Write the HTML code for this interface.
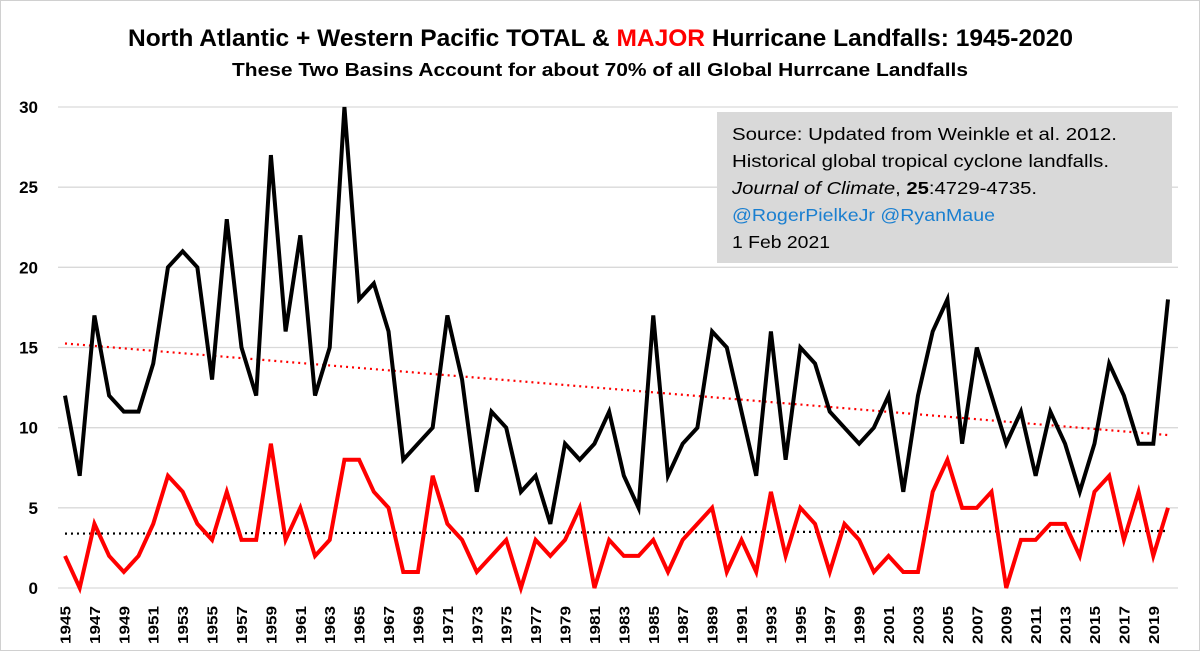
<!DOCTYPE html>
<html><head><meta charset="utf-8"><style>
html,body{margin:0;padding:0;background:#fff}
svg{display:block}
text{font-family:"Liberation Sans",sans-serif}
</style></head><body>
<svg id="chart" width="1200" height="651" viewBox="0 0 1200 651">
<rect x="0.5" y="0.5" width="1199" height="650" fill="#fff" stroke="#d0d0d0"/>
<text x="128" y="46" textLength="945" lengthAdjust="spacingAndGlyphs" font-size="24.5" font-weight="bold" fill="#000">North Atlantic + Western Pacific TOTAL &amp; <tspan fill="#ff0000">MAJOR</tspan> Hurricane Landfalls: 1945-2020</text>
<text x="232" y="76" textLength="736" lengthAdjust="spacingAndGlyphs" font-size="18.5" font-weight="bold" fill="#000">These Two Basins Account for about 70% of all Global Hurrcane Landfalls</text>
<g id="grid"></g>
<g id="ylabels"></g>
<g id="xlabels"></g>
<rect x="717" y="112" width="455" height="151" fill="#d9d9d9"/>
<g font-size="17.5" fill="#000">
<text x="732" y="140" textLength="385" lengthAdjust="spacingAndGlyphs">Source: Updated from Weinkle et al. 2012.</text>
<text x="732" y="167" textLength="377" lengthAdjust="spacingAndGlyphs">Historical global tropical cyclone landfalls.</text>
<text x="732" y="194" textLength="305" lengthAdjust="spacingAndGlyphs"><tspan font-style="italic">Journal of Climate</tspan>, <tspan font-weight="bold">25</tspan>:4729-4735.</text>
<text x="732" y="221" textLength="263" lengthAdjust="spacingAndGlyphs" fill="#1a7fd0">@RogerPielkeJr @RyanMaue</text>
<text x="732" y="248" textLength="98" lengthAdjust="spacingAndGlyphs">1 Feb 2021</text>
</g>
<g id="series"></g>
</svg>
<script>
const years = [];
for (let y = 1945; y <= 2020; y++) years.push(y);
const totalLandfalls = [12,7,17,12,11,11,14,20,21,20,13,23,15,12,27,16,22,12,15,30,18,19,16,8,9,10,17,13,6,11,10,6,7,4,9,8,9,11,7,5,17,7,9,10,16,15,11,7,16,8,15,14,11,10,9,10,12,6,12,16,18,9,15,12,9,11,7,11,9,6,9,14,12,9,9,18];
const majorLandfalls = [2,0,4,2,1,2,4,7,6,4,3,6,3,3,9,3,5,2,3,8,8,6,5,1,1,7,4,3,1,2,3,0,3,2,3,5,0,3,2,2,3,1,3,4,5,1,3,1,6,2,5,4,1,4,3,1,2,1,1,6,8,5,5,6,0,3,3,4,4,2,6,7,3,6,2,5];
const yTicks = [0,5,10,15,20,25,30];

const NS = "http://www.w3.org/2000/svg";
const X0 = 65, X1 = 1168, Y0 = 588, Y30 = 107;
const xs = i => X0 + (X1 - X0) * i / (years.length - 1);
const ys = v => Y0 - (Y0 - Y30) * v / 30;
function mk(tag, attrs, parent) {
  const e = document.createElementNS(NS, tag);
  for (const k in attrs) e.setAttribute(k, attrs[k]);
  parent.appendChild(e); return e;
}
const grid = document.getElementById('grid');
const yl = document.getElementById('ylabels');
yTicks.forEach(t => {
  const l = mk('line', {x1: 58, x2: 1178, y1: ys(t), y2: ys(t), stroke: '#d9d9d9', 'stroke-width': 1.3}, grid);
  
  
  const tx = mk('text', {x: 38, y: ys(t) + 6, 'text-anchor': 'end', 'font-size': 17, 'font-weight': 'bold'}, yl);
  tx.textContent = t;
  
  
});
const xl = document.getElementById('xlabels');
years.forEach((yr, i) => {
  if (yr % 2 === 0) return;
  const x = xs(i) + 5.5, y = 644;
  const tx = mk('text', {x: x, y: y, 'font-size': 15, 'font-weight': 'bold', textLength: 38, lengthAdjust: 'spacingAndGlyphs', transform: `rotate(-90 ${x} ${y})`}, xl);
  tx.textContent = yr;
  
  
});
function trend(arr) {
  const n = arr.length; let sx = 0, sy = 0, sxy = 0, sxx = 0;
  arr.forEach((v, i) => { sx += i; sy += v; sxy += i * v; sxx += i * i; });
  const b = (n * sxy - sx * sy) / (n * sxx - sx * sx); const a = (sy - b * sx) / n;
  return [a, a + b * (n - 1)];
}
const g = document.getElementById('series');
const tt = trend(totalLandfalls), tm = trend(majorLandfalls);
const l1 = mk('line', {x1: xs(0), y1: ys(tt[0]), x2: xs(years.length - 1), y2: ys(tt[1]), stroke: '#ff0000', 'stroke-width': 2.2, 'stroke-dasharray': '2 4'}, g);


const l2 = mk('line', {x1: xs(0), y1: ys(tm[0]), x2: xs(years.length - 1), y2: ys(tm[1]), stroke: '#000', 'stroke-width': 2.2, 'stroke-dasharray': '2 4'}, g);


const p1 = mk('polyline', {points: totalLandfalls.map((v, i) => xs(i) + ',' + ys(v)).join(' '), fill: 'none', stroke: '#000', 'stroke-width': 4, 'stroke-linejoin': 'miter'}, g);


const p2 = mk('polyline', {points: majorLandfalls.map((v, i) => xs(i) + ',' + ys(v)).join(' '), fill: 'none', stroke: '#ff0000', 'stroke-width': 4, 'stroke-linejoin': 'miter'}, g);


</script>
</body></html>
